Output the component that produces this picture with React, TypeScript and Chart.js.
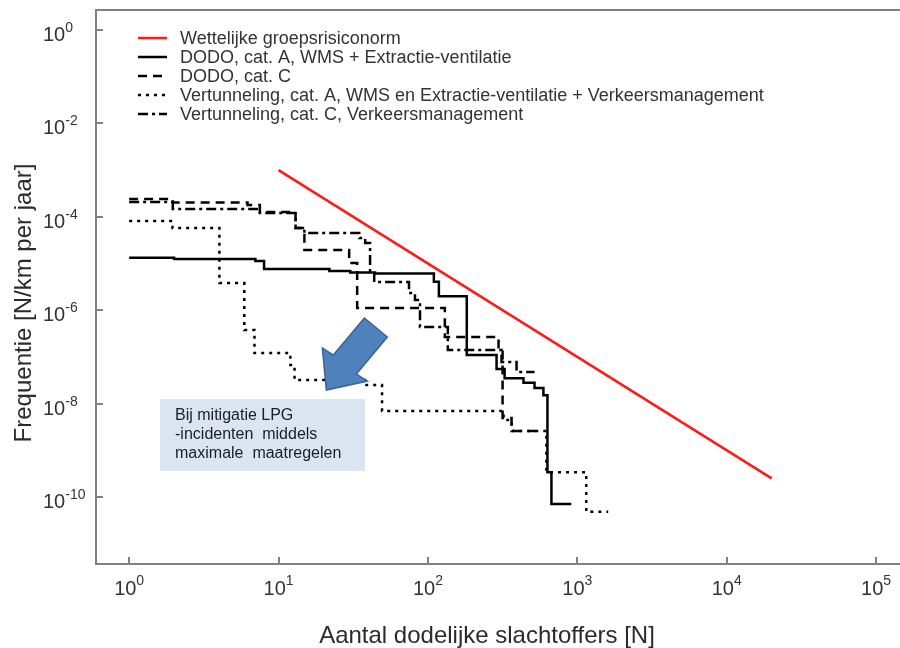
import React, { useEffect, useRef } from "react";
import { Chart, registerables } from "chart.js";

Chart.register(...registerables);

// ---- data (N = number of fatalities, F = frequency per km per year) ----
const normN = [10, 20000];
const normF = [1e-3, 2.5e-10];

const dodoAN = [1, 2.0, 7.0, 8.0, 21.9, 30.2, 44.3, 109.6, 118.4, 182, 288, 326, 436, 517, 593, 631, 671, 912];
const dodoAF = [1.33e-5, 1.25e-5, 1.13e-5, 7.6e-6, 6.9e-6, 6.4e-6, 6.1e-6, 4.07e-6, 2.0e-6, 1.1e-7, 5.5e-8, 3.5e-8, 2.8e-8, 2.15e-8, 1.5e-8, 3.4e-10, 7.1e-11, 7.1e-11];

const dodoCN = [1, 1.96, 6.2, 7.5, 13.0, 14.9, 29.7, 33.6, 129.8, 297, 316, 363, 575];
const dodoCF = [2.4e-4, 2.02e-4, 1.79e-4, 1.27e-4, 5.75e-5, 1.95e-5, 1.03e-5, 1.11e-6, 2.67e-7, 1.41e-7, 4.9e-9, 2.6e-9, 2.6e-9];

const vertAN = [1, 1.95, 4.02, 5.9, 6.9, 12.0, 12.8, 38.0, 49.3, 321, 363, 621, 1148, 1610];
const vertAF = [8.1e-5, 5.75e-5, 3.8e-6, 3.77e-7, 1.21e-7, 6.7e-8, 3.2e-8, 2.5e-8, 6.95e-9, 4.46e-9, 2.6e-9, 3.4e-10, 4.8e-11, 4.8e-11];

const vertCN = [1, 1.96, 7.5, 13.0, 14.9, 34.7, 38.0, 41.0, 43.7, 74.7, 81.9, 88.5, 135.9, 311, 392, 517];
const vertCF = [2.07e-4, 1.47e-4, 1.21e-4, 5.75e-5, 4.5e-5, 3.5e-5, 2.75e-5, 6.6e-6, 4.0e-6, 2.33e-6, 1.65e-6, 4.37e-7, 1.41e-7, 7.8e-8, 4.75e-8, 4.75e-8];

const seriesLabels = [
  "Wettelijke groepsrisiconorm",
  "DODO, cat. A, WMS + Extractie-ventilatie",
  "DODO, cat. C",
  "Vertunneling, cat. A, WMS en Extractie-ventilatie + Verkeersmanagement",
  "Vertunneling, cat. C, Verkeersmanagement",
];

const xTickExp = [0, 1, 2, 3, 4, 5];
const yTickExp = [0, -2, -4, -6, -8, -10];

const xTitle = "Aantal dodelijke slachtoffers [N]";
const yTitle = "Frequentie [N/km per jaar]";

const noteLines = ["Bij mitigatie LPG", "-incidenten  middels", "maximale  maatregelen"];
const noteAnchorN = 1.61;
const noteAnchorF = 1.26e-8;
const arrowTipN = 20.9;
const arrowTipF = 1.95e-8;

const X_MIN = Math.pow(10, -0.2);
const X_MAX = Math.pow(10, 5.16);
const Y_MIN = Math.pow(10, -11.435);
const Y_MAX = Math.pow(10, 0.428);

const FONT = '"Liberation Sans", Arial, sans-serif';
const AXIS_GRAY = "#808080";
const TEXT = "#333333";

const mk = (N: number[], F: number[]) => N.map((n, i) => ({ x: n, y: F[i] }));

const framePlugin = {
  id: "frame",
  beforeDatasetsDraw(chart: any) {
    const { ctx, chartArea: a, scales } = chart;
    const xs = scales.x;
    const ys = scales.y;
    ctx.save();
    ctx.strokeStyle = AXIS_GRAY;
    ctx.lineWidth = 2;
    ctx.beginPath();
    ctx.moveTo(a.left, a.top);
    ctx.lineTo(a.right, a.top);
    ctx.moveTo(a.left, a.top - 1);
    ctx.lineTo(a.left, a.bottom);
    ctx.lineTo(a.right, a.bottom);
    // inward ticks
    xTickExp.forEach((e) => {
      const px = Math.round(xs.getPixelForValue(Math.pow(10, e)));
      ctx.moveTo(px, a.bottom);
      ctx.lineTo(px, a.bottom - 7);
    });
    yTickExp.forEach((e) => {
      const py = Math.round(ys.getPixelForValue(Math.pow(10, e)));
      ctx.moveTo(a.left, py);
      ctx.lineTo(a.left + 7, py);
    });
    ctx.stroke();

    // tick labels
    ctx.fillStyle = TEXT;
    ctx.textBaseline = "alphabetic";
    ctx.textAlign = "left";
    const big = `20px ${FONT}`;
    const small = `14px ${FONT}`;
    xTickExp.forEach((e) => {
      const px = xs.getPixelForValue(Math.pow(10, e));
      ctx.font = big;
      const w1 = ctx.measureText("10").width;
      ctx.font = small;
      const sup = String(e);
      const w2 = ctx.measureText(sup).width;
      const x0 = px - (w1 + w2) / 2;
      ctx.font = big;
      ctx.fillText("10", x0, a.bottom + 31);
      ctx.font = small;
      ctx.fillText(sup, x0 + w1, a.bottom + 21);
    });
    yTickExp.forEach((e) => {
      const py = ys.getPixelForValue(Math.pow(10, e));
      const x0 = a.left - 53;
      ctx.font = big;
      const w1 = ctx.measureText("10").width;
      ctx.fillText("10", x0, py + 11);
      ctx.font = small;
      ctx.fillText(String(e), x0 + w1, py + 2);
    });

    // axis titles
    ctx.font = `24px ${FONT}`;
    ctx.textAlign = "center";
    ctx.fillStyle = "#2b2b2b";
    ctx.fillText(xTitle, 487, a.bottom + 79);
    ctx.save();
    ctx.translate(31, 303);
    ctx.rotate(-Math.PI / 2);
    ctx.fillText(yTitle, 0, 0);
    ctx.restore();
    ctx.restore();
  },
  afterDatasetsDraw(chart: any) {
    const { ctx, chartArea: a, scales } = chart;
    const xs = scales.x;
    const ys = scales.y;
    ctx.save();
    // legend
    chart.data.datasets.forEach((ds: any, i: number) => {
      const yLine = a.top + 28 + i * 19;
      ctx.beginPath();
      ctx.strokeStyle = ds.borderColor;
      ctx.lineWidth = ds.borderWidth;
      ctx.setLineDash(ds.borderDash || []);
      ctx.moveTo(a.left + 42, yLine);
      ctx.lineTo(a.left + 71, yLine);
      ctx.stroke();
      ctx.setLineDash([]);
      ctx.fillStyle = TEXT;
      ctx.font = `18px ${FONT}`;
      ctx.textAlign = "left";
      ctx.textBaseline = "alphabetic";
      ctx.fillText(ds.label, a.left + 84, yLine + 6);
    });

    // note box
    const bx = xs.getPixelForValue(noteAnchorN);
    const by = ys.getPixelForValue(noteAnchorF);
    ctx.fillStyle = "#dbe5f1";
    ctx.fillRect(bx, by, 205, 72);
    ctx.fillStyle = "#1c1c2a";
    ctx.font = `16px ${FONT}`;
    ctx.textAlign = "left";
    noteLines.forEach((t, i) => {
      ctx.fillText(t, bx + 15, by + 21 + i * 19);
    });

    // arrow
    const tx = xs.getPixelForValue(arrowTipN);
    const ty = ys.getPixelForValue(arrowTipF);
    const pts = [
      [38, -72],
      [61, -53],
      [30, -16],
      [41, -9],
      [0, 0],
      [-4, -42],
      [7, -35],
    ];
    ctx.beginPath();
    pts.forEach(([dx, dy], i) => {
      if (i === 0) ctx.moveTo(tx + dx, ty + dy);
      else ctx.lineTo(tx + dx, ty + dy);
    });
    ctx.closePath();
    ctx.fillStyle = "#4f81bd";
    ctx.fill();
    ctx.strokeStyle = "#3a6396";
    ctx.lineWidth = 1.5;
    ctx.stroke();
    ctx.restore();
  },
};

export default function App() {
  const ref = useRef<HTMLCanvasElement>(null);
  useEffect(() => {
    const canvas = ref.current!;
    const chart = new Chart(canvas, {
      type: "line",
      data: {
        datasets: [
          { label: seriesLabels[0], data: mk(normN, normF), borderColor: "#ff1a1a", borderWidth: 2.5, stepped: false },
          { label: seriesLabels[1], data: mk(dodoAN, dodoAF), borderColor: "#000000", borderWidth: 2.5, stepped: "before" },
          { label: seriesLabels[2], data: mk(dodoCN, dodoCF), borderColor: "#000000", borderWidth: 2.5, borderDash: [9, 6], stepped: "before" },
          { label: seriesLabels[3], data: mk(vertAN, vertAF), borderColor: "#000000", borderWidth: 2.5, borderDash: [3, 5], stepped: "before" },
          { label: seriesLabels[4], data: mk(vertCN, vertCF), borderColor: "#000000", borderWidth: 2.5, borderDash: [10, 4, 3, 4], stepped: "before" },
        ] as any,
      },
      options: {
        responsive: false,
        animation: false,
        devicePixelRatio: 1,
        layout: { padding: { left: 96, top: 10, right: 0, bottom: 84 } },
        plugins: { legend: { display: false }, tooltip: { enabled: false } },
        elements: { point: { radius: 0 }, line: { tension: 0, fill: false } },
        scales: {
          x: { type: "logarithmic", min: X_MIN, max: X_MAX, display: false },
          y: { type: "logarithmic", min: Y_MIN, max: Y_MAX, display: false },
        },
      } as any,
      plugins: [framePlugin as any],
    });
    return () => chart.destroy();
  }, []);
  return (
    <div style={{ position: "fixed", left: 0, top: 0, width: 900, height: 648, background: "#ffffff" }}>
      <canvas ref={ref} width={900} height={648} style={{ display: "block" }} />
    </div>
  );
}
